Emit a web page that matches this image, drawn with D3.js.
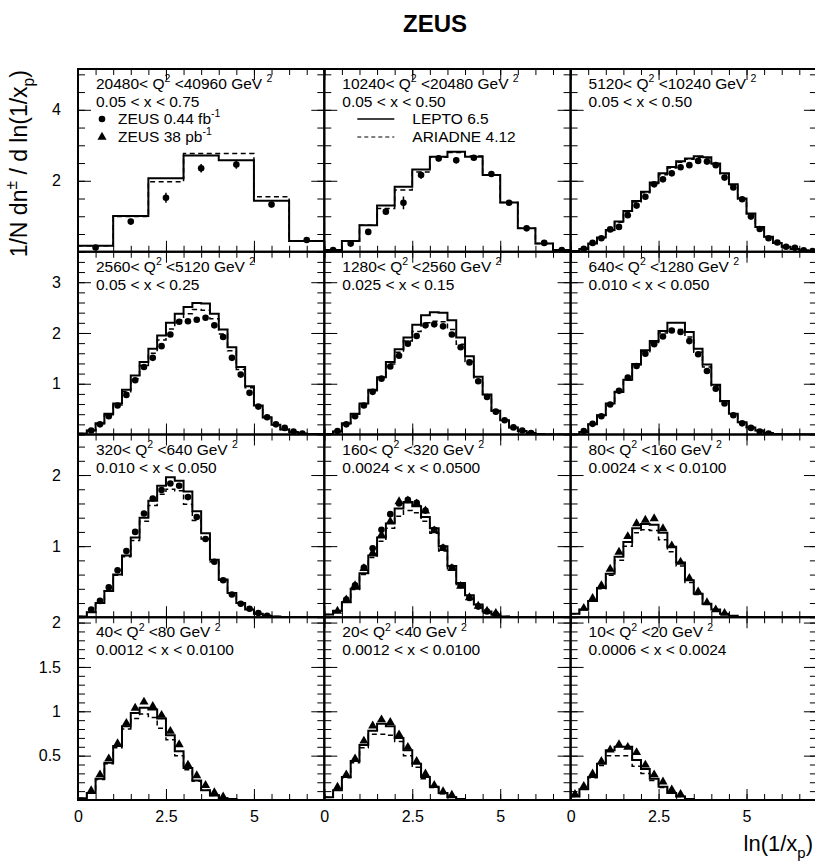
<!DOCTYPE html>
<meta charset="utf-8">
<html>
<head>
<title>ZEUS ln(1/xp)</title>
<script src="https://d3js.org/d3.v7.min.js"></script>
<style>
    body { margin: 0; background: white; }
    text { font-family: "Liberation Sans", Arial, Helvetica, sans-serif; fill: black; }
</style>
</head>
<body>
<div id="chartdiv"></div>
<script>

// panel labels, row by row, left to right
const q2Low  = ["20480", "10240", "5120", "2560", "1280", "640", "320", "160", "80", "40", "20", "10"];
const q2High = ["40960", "20480", "10240", "5120", "2560", "1280", "640", "320", "160", "80", "40", "20"];
const xRanges = ["0.05 < x < 0.75", "0.05 < x < 0.50", "0.05 < x < 0.50", "0.05 < x < 0.25",
                 "0.025 < x < 0.15", "0.010 < x < 0.050", "0.010 < x < 0.050", "0.0024 < x < 0.0500",
                 "0.0024 < x < 0.0100", "0.0012 < x < 0.0100", "0.0012 < x < 0.0100", "0.0006 < x < 0.0024"];
const binWidths = [1, 0.5, 0.25, 0.25, 0.25, 0.25, 0.25, 0.25, 0.25, 0.25, 0.25, 0.25];

// axis ticks
const xMajor = [0, 2.5, 5];
const rowYMax = [5.15, 3.6, 2.57, 2.06];
const rowMajor = [[2, 4], [1, 2, 3], [1, 2], [0.5, 1, 1.5, 2]];
const rowMinorStep = [0.5, 0.2, 0.2, 0.1];

// LEPTO 6.5 (solid), ARIADNE 4.12 (dashed), ZEUS 0.44 fb-1 (circles), ZEUS 38 pb-1 (triangles)
const lepto1   = [0.17, 1.01, 2.07, 2.71, 2.58, 1.44, 0.30];
const ariadne1 = [0.17, 0.99, 1.97, 2.77, 2.77, 1.55, 0.30];
const zeus1    = [0.12, 0.85, 1.52, 2.35, 2.46, 1.33, 0.33];
const zeusErr1 = [0.03, 0.08, 0.14, 0.12, 0.12, 0.08, 0.03];

const lepto2   = [0.05, 0.30, 0.75, 1.30, 1.83, 2.32, 2.68, 2.82, 2.68, 2.16, 1.39, 0.66, 0.23, 0.05];
const ariadne2 = [0.05, 0.30, 0.75, 1.22, 1.74, 2.25, 2.66, 2.80, 2.70, 2.16, 1.39, 0.66, 0.23, 0.05];
const zeus2    = [0.05, 0.23, 0.56, 1.13, 1.38, 2.16, 2.63, 2.58, 2.65, 2.19, 1.38, 0.66, 0.25, 0.05];
const zeusErr2 = [0.02, 0.04, 0.05, 0.08, 0.18, 0.10, 0.09, 0.09, 0.07, 0.08, 0.04, 0.03, 0.02, 0.02];

const lepto3   = [0.02, 0.08, 0.23, 0.40, 0.61, 0.85, 1.15, 1.43, 1.69, 1.95, 2.21, 2.39, 2.55, 2.63, 2.69, 2.66, 2.49, 2.21, 1.90, 1.50, 1.08, 0.70, 0.42, 0.25, 0.14, 0.08, 0.04, 0.02];
const ariadne3 = [0.02, 0.08, 0.22, 0.39, 0.60, 0.83, 1.12, 1.40, 1.66, 1.92, 2.17, 2.36, 2.52, 2.61, 2.66, 2.64, 2.48, 2.20, 1.88, 1.49, 1.07, 0.69, 0.42, 0.25, 0.14, 0.08, 0.04, 0.02];
const zeus3    = [null, 0.08, 0.25, 0.38, 0.63, 0.70, 1.03, 1.30, 1.55, 1.90, 2.04, 2.21, 2.38, 2.44, 2.56, 2.54, 2.44, 2.09, 1.81, 1.48, 0.99, 0.64, 0.38, 0.26, 0.14, 0.11, 0.04, 0.02];

const lepto4   = [0.02, 0.08, 0.22, 0.41, 0.61, 0.88, 1.16, 1.43, 1.69, 1.95, 2.20, 2.38, 2.51, 2.59, 2.58, 2.38, 2.07, 1.72, 1.33, 0.95, 0.57, 0.34, 0.19, 0.10, 0.05, 0.02, 0.01, 0.01];
const ariadne4 = [0.02, 0.08, 0.21, 0.39, 0.58, 0.84, 1.10, 1.36, 1.60, 1.86, 2.08, 2.25, 2.38, 2.46, 2.45, 2.28, 1.98, 1.65, 1.28, 0.92, 0.56, 0.33, 0.19, 0.10, 0.05, 0.02, 0.01, 0.01];
const zeus4    = [null, 0.08, 0.20, 0.36, 0.57, 0.78, 1.07, 1.33, 1.51, 1.74, 1.97, 2.22, 2.23, 2.26, 2.30, 2.15, 1.92, 1.51, 1.18, 0.82, 0.55, 0.34, 0.20, 0.13, 0.06, 0.02];

const lepto5   = [0.01, 0.06, 0.22, 0.41, 0.61, 0.88, 1.13, 1.43, 1.68, 1.91, 2.16, 2.35, 2.41, 2.40, 2.25, 1.91, 1.54, 1.14, 0.79, 0.47, 0.28, 0.14, 0.07, 0.03, 0.01];
const ariadne5 = [0.01, 0.06, 0.21, 0.40, 0.60, 0.86, 1.10, 1.39, 1.62, 1.84, 2.03, 2.20, 2.23, 2.22, 2.07, 1.78, 1.44, 1.08, 0.76, 0.46, 0.28, 0.14, 0.07, 0.03, 0.01];
const zeus5    = [null, 0.07, 0.20, 0.36, 0.57, 0.84, 1.10, 1.34, 1.55, 1.79, 1.94, 2.15, 2.17, 2.13, 1.97, 1.72, 1.42, 1.05, 0.74, 0.45, 0.28, 0.14, 0.08, 0.03];

const lepto6   = [0.00, 0.05, 0.20, 0.38, 0.61, 0.84, 1.08, 1.39, 1.66, 1.84, 2.04, 2.20, 2.20, 2.02, 1.69, 1.38, 0.98, 0.66, 0.41, 0.24, 0.14, 0.08, 0.03, 0.01];
const ariadne6 = [0.00, 0.05, 0.20, 0.38, 0.60, 0.83, 1.07, 1.37, 1.63, 1.81, 2.00, 2.07, 2.07, 1.92, 1.62, 1.33, 0.96, 0.65, 0.41, 0.24, 0.14, 0.08, 0.03, 0.01];
const zeus6    = [null, 0.07, 0.21, 0.36, 0.59, 0.86, 1.12, 1.35, 1.59, 1.78, 1.93, 2.05, 2.02, 1.84, 1.58, 1.25, 0.90, 0.61, 0.38, 0.22, 0.13, 0.06, 0.02];

const lepto7   = [0.01, 0.07, 0.20, 0.37, 0.60, 0.87, 1.12, 1.40, 1.64, 1.85, 1.97, 1.92, 1.77, 1.49, 1.18, 0.81, 0.53, 0.34, 0.20, 0.11, 0.05, 0.02, 0.01];
const ariadne7 = [0.01, 0.07, 0.20, 0.37, 0.59, 0.85, 1.08, 1.35, 1.57, 1.73, 1.80, 1.78, 1.59, 1.36, 1.10, 0.78, 0.52, 0.33, 0.20, 0.11, 0.05, 0.02, 0.01];
const zeus7    = [null, 0.11, 0.23, 0.42, 0.66, 0.93, 1.20, 1.46, 1.67, 1.79, 1.88, 1.85, 1.69, 1.41, 1.10, 0.78, 0.52, 0.32, 0.19, 0.12, 0.06, 0.02];

const lepto8   = [0.04, 0.09, 0.21, 0.40, 0.62, 0.87, 1.12, 1.32, 1.53, 1.62, 1.56, 1.41, 1.25, 1.00, 0.72, 0.48, 0.31, 0.18, 0.08, 0.04, 0.01];
const ariadne8 = [0.04, 0.09, 0.21, 0.39, 0.60, 0.84, 1.07, 1.25, 1.42, 1.50, 1.47, 1.35, 1.18, 0.93, 0.68, 0.46, 0.30, 0.18, 0.08, 0.04, 0.01];
const zeus8    = [null, null, 0.25, 0.45, 0.70, 0.97, 1.23, 1.45, 1.60, 1.65, 1.61, 1.50, 1.23, 0.98, 0.70, 0.45, 0.27, 0.15, 0.08, 0.04];
const zeusLo8  = [null, 0.08, 0.24, 0.44, 0.68, 0.90, 1.15, 1.34, 1.62, 1.63, 1.59, 1.49, 1.21, 0.96, 0.68, 0.43, 0.27, 0.15, 0.08, 0.05];

const lepto9   = [0.05, 0.11, 0.23, 0.41, 0.61, 0.85, 1.06, 1.25, 1.31, 1.30, 1.19, 0.99, 0.77, 0.52, 0.33, 0.19, 0.11, 0.05, 0.02];
const ariadne9 = [0.05, 0.11, 0.23, 0.40, 0.59, 0.80, 1.00, 1.19, 1.23, 1.22, 1.09, 0.92, 0.72, 0.49, 0.32, 0.19, 0.10, 0.05, 0.02];
const zeusLo9  = [null, 0.12, 0.26, 0.44, 0.67, 0.91, 1.13, 1.31, 1.36, 1.38, 1.24, 1.00, 0.77, 0.54, 0.35, 0.20, 0.10, 0.05];

const lepto10   = [0.02, 0.08, 0.24, 0.42, 0.61, 0.83, 0.98, 1.04, 1.02, 0.92, 0.73, 0.55, 0.36, 0.22, 0.11, 0.05, 0.02, 0.01];
const ariadne10 = [0.02, 0.08, 0.23, 0.41, 0.59, 0.80, 0.92, 0.97, 0.93, 0.81, 0.68, 0.50, 0.34, 0.21, 0.11, 0.05, 0.02, 0.01];
const zeusLo10  = [null, 0.10, 0.28, 0.46, 0.63, 0.86, 1.03, 1.10, 1.05, 0.95, 0.77, 0.62, 0.39, 0.27, 0.16, 0.08, 0.03];

const lepto11   = [0.03, 0.11, 0.26, 0.44, 0.62, 0.78, 0.86, 0.83, 0.70, 0.56, 0.41, 0.26, 0.15, 0.08, 0.03, 0.01];
const ariadne11 = [0.03, 0.11, 0.25, 0.42, 0.59, 0.74, 0.74, 0.73, 0.66, 0.50, 0.37, 0.24, 0.14, 0.07, 0.03, 0.01];
const zeusLo11  = [null, 0.14, 0.28, 0.46, 0.66, 0.83, 0.90, 0.87, 0.73, 0.59, 0.43, 0.29, 0.16, 0.09, 0.05];

const lepto12   = [0.04, 0.12, 0.26, 0.41, 0.56, 0.60, 0.60, 0.45, 0.35, 0.24, 0.15, 0.08, 0.04, 0.01];
const ariadne12 = [0.04, 0.12, 0.25, 0.39, 0.50, 0.50, 0.50, 0.38, 0.30, 0.22, 0.14, 0.08, 0.04, 0.01];
const zeusLo12  = [0.06, 0.15, 0.29, 0.43, 0.56, 0.62, 0.59, 0.53, 0.39, 0.28, 0.20, 0.11, 0.06];

// table for the loop
const leptoAll   = [lepto1, lepto2, lepto3, lepto4, lepto5, lepto6, lepto7, lepto8, lepto9, lepto10, lepto11, lepto12];
const ariadneAll = [ariadne1, ariadne2, ariadne3, ariadne4, ariadne5, ariadne6, ariadne7, ariadne8, ariadne9, ariadne10, ariadne11, ariadne12];
const zeusAll    = [zeus1, zeus2, zeus3, zeus4, zeus5, zeus6, zeus7, zeus8, [], [], [], []];
const zeusErrAll = [zeusErr1, zeusErr2];
const zeusLoAll  = [[], [], [], [], [], [], [], zeusLo8, zeusLo9, zeusLo10, zeusLo11, zeusLo12];

// layout
const W = 815, H = 861;
const padL = 78, padT = 69;
const colW = 246.3, rowH = 182.75;
const xMax = 7;
const labelSize = 15.5;

const svg = d3.select("#chartdiv").append("svg")
    .attr("width", W).attr("height", H);

// write text with super/subscripts: parts = [[text, "sup"|"sub"|null], ...]
function richText(sel, parts, size) {
    var shift = 0;
    parts.forEach(p => {
        var t = sel.append("tspan").text(p[0]);
        var want = 0;
        if (p[1] == "sup") want = -size * 0.42;
        if (p[1] == "sub") want = size * 0.3;
        t.attr("font-size", p[1] ? size * 0.68 : size);
        if (want - shift != 0) t.attr("dy", want - shift);
        shift = want;
    });
}

// step line for a histogram
var stepLine = d3.line().curve(d3.curveStepAfter);

for (let i = 0; i < 12; i++) {
    var r = Math.floor(i / 3), c = i % 3;
    var x0 = padL + c * colW, x1 = x0 + colW;
    var yTop = padT + r * rowH, yBot = yTop + rowH;

    var x = d3.scaleLinear().domain([0, xMax]).range([x0, x1]);
    var y = d3.scaleLinear().domain([0, rowYMax[r]]).range([yBot, yTop]);
    var w = binWidths[i];
    var nb = Math.round(xMax / w);

    var g = svg.append("g");

    svg.append("clipPath").attr("id", "clip" + i)
        .append("rect").attr("x", x0).attr("y", yTop).attr("width", colW).attr("height", rowH);
    var plot = g.append("g").attr("clip-path", "url(#clip" + i + ")");

    // histograms
    [[leptoAll[i], null, 2], [ariadneAll[i], "5,3.5", 1.5]].forEach(h => {
        var vals = h[0].slice();
        while (vals.length < nb) vals.push(0);
        var pts = vals.map((v, k) => [x(k * w), y(v)]);
        pts.push([x(nb * w), y(vals[vals.length - 1])]);
        plot.append("path")
            .attr("d", stepLine(pts))
            .attr("fill", "none")
            .attr("stroke", "black")
            .attr("stroke-width", h[2])
            .attr("stroke-dasharray", h[1]);
    });

    // ZEUS 0.44 fb-1 circles with error bars
    var errs = zeusErrAll[i] || [];
    zeusAll[i].forEach((v, k) => {
        if (v == null) return;
        var cx = x((k + 0.5) * w);
        if (errs[k]) {
            plot.append("line")
                .attr("x1", cx).attr("x2", cx)
                .attr("y1", y(v - errs[k])).attr("y2", y(v + errs[k]))
                .attr("stroke", "black").attr("stroke-width", 1.5);
        }
        plot.append("circle").attr("cx", cx).attr("cy", y(v)).attr("r", 3.3).attr("fill", "black");
    });

    // ZEUS 38 pb-1 triangles
    zeusLoAll[i].forEach((v, k) => {
        if (v == null) return;
        plot.append("path")
            .attr("d", d3.symbol(d3.symbolTriangle, 36)())
            .attr("transform", "translate(" + x((k + 0.5) * w) + "," + (y(v) - 0.5) + ")")
            .attr("fill", "black");
    });

    // ticks on all four sides, pointing in
    var yMinor = d3.range(0, rowYMax[r] + 1e-6, rowMinorStep[r]);
    var xMinor = d3.range(0, xMax + 1e-6, 0.5);
    var ax = [
        [d3.axisLeft(y).tickValues(yMinor).tickSizeInner(-7), x0, 0, false],
        [d3.axisLeft(y).tickValues(rowMajor[r]).tickSizeInner(-13).tickPadding(17), x0, 0, c == 0],
        [d3.axisRight(y).tickValues(yMinor).tickSizeInner(-7), x1, 0, false],
        [d3.axisRight(y).tickValues(rowMajor[r]).tickSizeInner(-13), x1, 0, false],
        [d3.axisBottom(x).tickValues(xMinor).tickSizeInner(-6), 0, yBot, false],
        [d3.axisBottom(x).tickValues(xMajor).tickSizeInner(-11).tickPadding(10.6), 0, yBot, r == 3],
        [d3.axisTop(x).tickValues(xMinor).tickSizeInner(-6), 0, yTop, false],
        [d3.axisTop(x).tickValues(xMajor).tickSizeInner(-11), 0, yTop, false]
    ];
    ax.forEach(a => {
        var axis = a[0].tickSizeOuter(0).tickFormat(a[3] ? (d => d) : "");
        var ag = g.append("g")
            .attr("transform", "translate(" + a[1] + "," + a[2] + ")")
            .call(axis);
        ag.select(".domain").remove();
        ag.attr("font-family", null).attr("font-size", 16);
        ag.selectAll("line").attr("stroke", "black").attr("stroke-width", 1);
    });

    // frame
    g.append("rect")
        .attr("x", x0).attr("y", yTop).attr("width", colW).attr("height", rowH)
        .attr("fill", "none").attr("stroke", "black").attr("stroke-width", 2);

    // panel labels
    richText(g.append("text").attr("x", x0 + 18).attr("y", yTop + 20),
        [[q2Low[i] + "< Q", null], ["2", "sup"], [" <" + q2High[i] + " GeV ", null], ["2", "sup"]], labelSize);
    g.append("text").attr("x", x0 + 18).attr("y", yTop + 38).attr("font-size", labelSize).text(xRanges[i]);

    // legends
    if (i == 0) {
        g.append("circle").attr("cx", x0 + 24).attr("cy", yTop + 50).attr("r", 3.3).attr("fill", "black");
        richText(g.append("text").attr("x", x0 + 40).attr("y", yTop + 55),
            [["ZEUS 0.44 fb", null], ["-1", "sup"]], labelSize);
        g.append("path")
            .attr("d", d3.symbol(d3.symbolTriangle, 36)())
            .attr("transform", "translate(" + (x0 + 24) + "," + (yTop + 68) + ")");
        richText(g.append("text").attr("x", x0 + 40).attr("y", yTop + 73),
            [["ZEUS 38 pb", null], ["-1", "sup"]], labelSize);
    }
    if (i == 1) {
        g.append("line").attr("x1", x0 + 33).attr("x2", x0 + 70)
            .attr("y1", yTop + 50).attr("y2", yTop + 50)
            .attr("stroke", "black").attr("stroke-width", 1.5);
        g.append("text").attr("x", x0 + 88).attr("y", yTop + 55).attr("font-size", labelSize).text("LEPTO 6.5");
        g.append("line").attr("x1", x0 + 33).attr("x2", x0 + 70)
            .attr("y1", yTop + 68).attr("y2", yTop + 68)
            .attr("stroke", "black").attr("stroke-width", 1.2).attr("stroke-dasharray", "4,3");
        g.append("text").attr("x", x0 + 88).attr("y", yTop + 73).attr("font-size", labelSize).text("ARIADNE 4.12");
    }
}

// title and axis titles
svg.append("text").attr("x", 435).attr("y", 32)
    .attr("text-anchor", "middle").attr("font-size", 24).attr("font-weight", "bold").text("ZEUS");

richText(svg.append("text").attr("text-anchor", "end")
        .attr("transform", "translate(27,70) rotate(-90)"),
    [["1/N dn", null], ["±", "sup"], [" / d ln(1/x", null], ["p", "sub"], [")", null]], 23);

richText(svg.append("text").attr("text-anchor", "end").attr("x", 813).attr("y", 851),
    [["ln(1/x", null], ["p", "sub"], [")", null]], 22);

</script>
</body>
</html>
